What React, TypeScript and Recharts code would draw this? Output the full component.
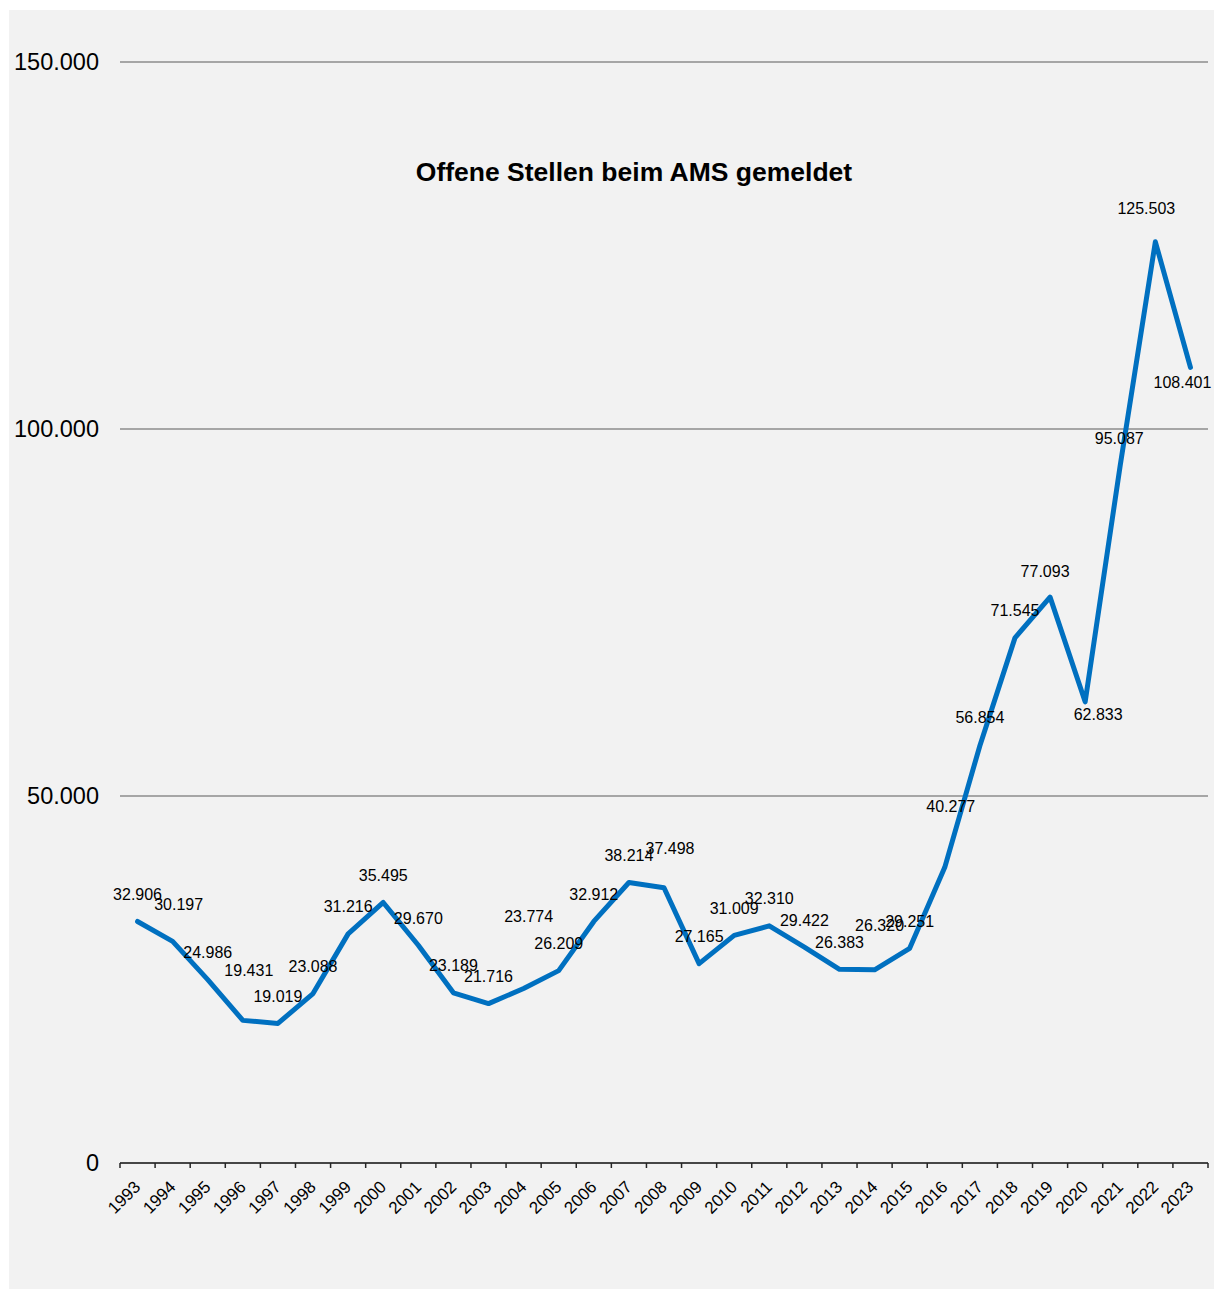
import { LineChart, Line, XAxis, YAxis, CartesianGrid, LabelList } from "recharts";

const years = [
  "1993", "1994", "1995", "1996", "1997", "1998", "1999", "2000", "2001", "2002", "2003",
  "2004", "2005", "2006", "2007", "2008", "2009", "2010", "2011", "2012", "2013", "2014",
  "2015", "2016", "2017", "2018", "2019", "2020", "2021", "2022", "2023",
];

const openPositions = [
  32906, 30197, 24986, 19431, 19019, 23088, 31216, 35495, 29670, 23189, 21716,
  23774, 26209, 32912, 38214, 37498, 27165, 31009, 32310, 29422, 26383, 26320,
  29251, 40277, 56854, 71545, 77093, 62833, 95087, 125503, 108401,
];

const yTicks = [0, 50000, 100000, 150000];

// label nudges (dx, dy) relative to each point, as placed in the original
const labelShift: [number, number][] = [
  [0, -27], [6, -37], [0, -27], [6, -50], [0, -27], [0, -27], [0, -27], [0, -27],
  [0, -27], [0, -27], [0, -27], [5, -72], [0, -27], [0, -27], [0, -27], [6, -39],
  [0, -27], [0, -27], [0, -27], [0, -27], [0, -27], [5, -44], [0, -27], [6, -61],
  [0, -28], [0, -27], [-5, -26], [13, 13], [-1, -27], [-9, -33], [-8, 15],
];

const data = years.map((year, i) => ({ year, value: openPositions[i] }));

if (typeof document !== "undefined") {
  document.body.style.margin = "0";
  document.body.style.overflow = "hidden";
}

const FONT = "'Liberation Sans', Arial, sans-serif";
const W = 1205;
const H = 1279;
const M = { top: 52, right: 6, left: 11, bottom: 66 };
const Y_W = 100;
const step = (W - M.left - M.right - Y_W) / years.length;

const fmt = (v: number) => String(v).replace(/\B(?=(\d{3})+(?!\d))/g, ".");

const XTick = (props: any) => {
  const { x, y, payload, index } = props;
  const last = index === years.length - 1;
  return (
    <g>
      <line x1={x - step / 2} y1={y} x2={x - step / 2} y2={y + 5} stroke="#262626" strokeWidth={1.5} />
      {last && <line x1={x + step / 2} y1={y} x2={x + step / 2} y2={y + 5} stroke="#262626" strokeWidth={1.5} />}
      <text
        transform={`translate(${x + 4},${y + 25}) rotate(-45)`}
        textAnchor="end"
        fontSize={17}
        fontFamily={FONT}
        fill="#000"
      >
        {payload.value}
      </text>
    </g>
  );
};

const PointLabel = (props: any) => {
  const { x, y, value, index } = props;
  const [dx, dy] = labelShift[index] || [0, -27];
  return (
    <text
      x={x + dx}
      y={y + dy}
      textAnchor="middle"
      dominantBaseline="central"
      fontSize={16}
      fontFamily={FONT}
      fill="#000"
    >
      {fmt(value)}
    </text>
  );
};

export default function App() {
  return (
    <div style={{ position: "relative", margin: "10px 0 0 9px", width: W, height: H, background: "#f2f2f2" }}>
      <div
        style={{
          position: "absolute",
          left: 325,
          top: 147,
          width: 600,
          textAlign: "center",
          fontFamily: FONT,
          fontWeight: "bold",
          fontSize: 26.5,
          lineHeight: "30px",
          color: "#000",
        }}
      >
        Offene Stellen beim AMS gemeldet
      </div>
      <LineChart width={W} height={H} data={data} margin={M}>
        <CartesianGrid vertical={false} stroke="#8c8c8c" strokeWidth={1.5} />
        <XAxis
          dataKey="year"
          scale="band"
          interval={0}
          height={60}
          tickSize={0}
          tickMargin={0}
          tickLine={false}
          axisLine={{ stroke: "#262626", strokeWidth: 1.5 }}
          tick={<XTick />}
        />
        <YAxis
          width={Y_W}
          domain={[0, 150000]}
          ticks={yTicks}
          tickFormatter={fmt}
          axisLine={false}
          tickLine={false}
          tickSize={0}
          tickMargin={21}
          tick={{ fontSize: 23.5, fontFamily: FONT, fill: "#000" }}
        />
        <Line
          type="linear"
          dataKey="value"
          stroke="#0070c0"
          strokeWidth={5}
          strokeLinejoin="round"
          strokeLinecap="round"
          dot={false}
          isAnimationActive={false}
        >
          <LabelList dataKey="value" content={<PointLabel />} />
        </Line>
      </LineChart>
    </div>
  );
}
